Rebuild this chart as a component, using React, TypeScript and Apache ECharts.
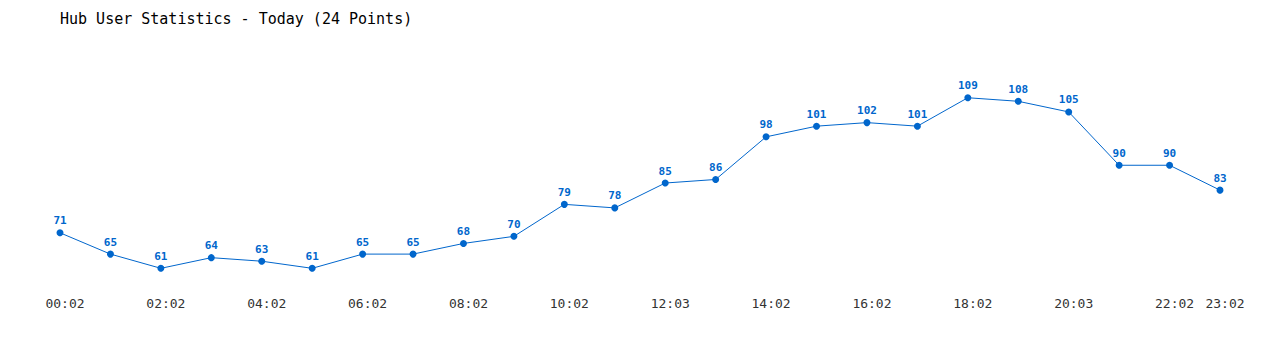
import React, { useEffect, useRef } from "react";
import * as echarts from "echarts";

const times = [
  "00:02", "01:02", "02:02", "03:02", "04:02", "05:02", "06:02", "07:02",
  "08:02", "09:02", "10:02", "11:02", "12:03", "13:02", "14:02", "15:02",
  "16:02", "17:02", "18:02", "19:02", "20:03", "21:02", "22:02", "23:02",
];
const users = [
  71, 65, 61, 64, 63, 61, 65, 65, 68, 70, 79, 78, 85, 86, 98, 101, 102, 101,
  109, 108, 105, 90, 90, 83,
];

const FONT = "'DejaVu Sans Mono', 'Liberation Mono', monospace";

export default function App() {
  const ref = useRef<HTMLDivElement>(null);
  useEffect(() => {
    document.body.style.margin = "0";
    const chart = echarts.init(ref.current!, null, { renderer: "svg" });
    const lo = Math.min(...users) * 0.9;
    const hi = Math.max(...users) * 1.1;
    chart.setOption({
      animation: false,
      backgroundColor: "#ffffff",
      title: {
        text: "Hub User Statistics - Today (24 Points)",
        left: 55,
        top: 6,
        textStyle: { fontFamily: FONT, fontSize: 15, fontWeight: "normal", color: "#000" },
      },
      grid: { left: 60, right: 60, top: 59, bottom: 60 },
      xAxis: {
        type: "category",
        data: times,
        boundaryGap: false,
        axisLine: { show: false },
        axisTick: { show: false },
        splitLine: { show: false },
        axisLabel: {
          interval: (i: number) => i % 2 === 0 || i === times.length - 1,
          margin: 7,
          padding: [0, 0, 0, 10],
          fontFamily: FONT,
          fontSize: 13,
          color: "#333",
          hideOverlap: false,
        },
      },
      yAxis: {
        type: "value",
        min: lo,
        max: hi,
        show: false,
        splitLine: { show: false },
      },
      series: [
        {
          type: "line",
          data: users,
          symbol: "circle",
          symbolSize: 7,
          itemStyle: { color: "#0066cc" },
          lineStyle: { color: "#0066cc", width: 1 },
          label: {
            show: true,
            position: "top",
            distance: 3,
            fontFamily: FONT,
            fontSize: 11,
            fontWeight: "bold",
            color: "#0066cc",
          },
        },
      ],
    });
    return () => chart.dispose();
  }, []);
  return <div ref={ref} style={{ width: 1280, height: 350 }} />;
}
